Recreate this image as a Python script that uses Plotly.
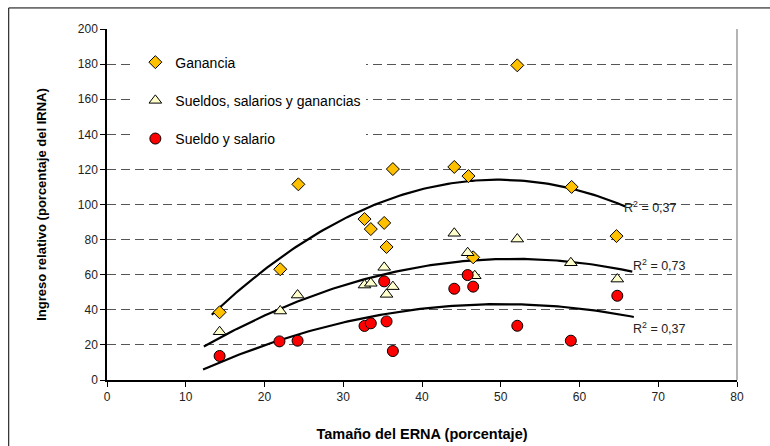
import numpy as np
import plotly.graph_objects as go

# ERNA size (%) vs relative income (% of IRNA)
ganancia_x = [14.3, 22.0, 24.3, 32.7, 33.5, 35.2, 35.5, 36.3, 44.1, 45.9, 46.5, 52.1, 59.0, 64.7]
ganancia_y = [38.6, 63.1, 111.5, 91.7, 86.0, 89.5, 75.8, 120.2, 121.4, 116.2, 69.9, 179.3, 110.0, 82.0]

sueldos_gan_x = [14.3, 22.0, 24.2, 32.7, 33.5, 35.2, 35.5, 36.3, 44.1, 45.8, 46.7, 52.1, 58.9, 64.8]
sueldos_gan_y = [27.5, 39.3, 48.4, 54.1, 55.1, 64.2, 48.8, 53.2, 83.6, 72.5, 59.4, 80.3, 66.8, 57.5]

sueldo_x = [14.3, 21.9, 24.2, 32.7, 33.5, 35.2, 35.5, 36.3, 44.1, 45.8, 46.5, 52.1, 58.9, 64.8]
sueldo_y = [13.7, 22.0, 22.4, 30.8, 32.3, 56.2, 33.4, 16.5, 52.0, 59.8, 53.2, 30.9, 22.4, 48.0]

# trendline span (with forecast before / after the data)
trend_start = [13.3, 12.3, 12.2]
trend_end = [65.8, 66.7, 66.9]
r2_labels = ["R<sup>2</sup> = 0,37", "R<sup>2</sup> = 0,73", "R<sup>2</sup> = 0,37"]

series = [
    ("Ganancia", ganancia_x, ganancia_y, "diamond", "#FFC000", 10),
    ("Sueldos, salarios y ganancias", sueldos_gan_x, sueldos_gan_y, "triangle-up", "#FFFFCC", 11),
    ("Sueldo y salario", sueldo_x, sueldo_y, "circle", "#FF0000", 11),
]

fig = go.Figure()

# polynomial (order 2) trendlines
for i, (name, xs, ys, sym, col, size) in enumerate(series):
    coef = np.polyfit(xs, ys, 2)
    tx = np.linspace(trend_start[i], trend_end[i], 120)
    fig.add_trace(go.Scatter(x=tx, y=np.polyval(coef, tx), mode="lines",
                             line=dict(color="black", width=2.2),
                             showlegend=False, hoverinfo="skip"))

for i, (name, xs, ys, sym, col, size) in enumerate(series):
    fig.add_trace(go.Scatter(x=xs, y=ys, mode="markers", name=name,
                             legendgroup=name,
                             marker=dict(symbol=sym, color=col, size=size,
                                         line=dict(color="black", width=1))))

r2_pos = [(65.4, 98.6), (66.6, 65.5), (66.6, 29.8)]
for (ax, ay), txt in zip(r2_pos, r2_labels):
    fig.add_annotation(x=ax, y=ay, text=txt, showarrow=False, xanchor="left",
                       font=dict(size=12.5, color="#222"))

# outer chart frame and grey right border of plot area
fig.add_shape(type="rect", xref="paper", yref="paper", x0=-0.156, x1=1.2,
              y0=-0.3, y1=1.06, line=dict(color="black", width=1))
fig.add_shape(type="line", xref="paper", yref="paper", x0=1, x1=1, y0=0, y1=1,
              line=dict(color="#b4b4b4", width=2))

axis_font = dict(family="Liberation Sans, Arial", size=12, color="#222")
fig.update_xaxes(range=[0, 80], dtick=10, showgrid=False, zeroline=False,
                 showline=True, linecolor="black", linewidth=1.5, automargin=False,
                 ticks="outside", ticklen=5, tickcolor="black", tickfont=axis_font,
                 title=dict(text="<b>Tamaño del ERNA (porcentaje)</b>",
                            font=dict(size=14.5, color="black"), standoff=26))
fig.update_yaxes(range=[0, 200], dtick=20, showgrid=True, gridcolor="#555",
                 griddash="9px,5px", gridwidth=1, zeroline=False, automargin=False,
                 showline=True, linecolor="black", linewidth=1.5,
                 ticks="outside", ticklen=5, tickcolor="black", tickfont=axis_font,
                 title=dict(text="<b>Ingreso relativo (porcentaje del IRNA)</b>",
                            font=dict(size=13, color="black"), standoff=28))

fig.update_layout(
    width=770, height=446,
    margin=dict(l=106.5, r=33.3, t=29, b=66),
    paper_bgcolor="white", plot_bgcolor="white",
    font=dict(family="Liberation Sans, Arial", color="black"),
    showlegend=True,
    legend=dict(x=0.045, y=0.95, xanchor="left", yanchor="top",
                bgcolor="white", borderwidth=0, tracegroupgap=17,
                font=dict(size=14, color="black")),
)

fig.write_html("out.html", config={"displayModeBar": False},
               post_script="document.body.style.margin='0';")
